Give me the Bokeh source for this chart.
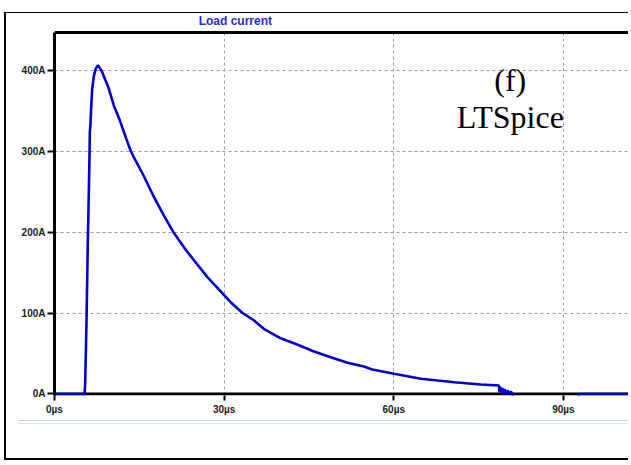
from bokeh.plotting import figure
from bokeh.models import Range1d, FixedTicker, Span, Label, BoxAnnotation
from bokeh.embed import file_html
from bokeh.resources import INLINE

# ---- data ----
t_us = [0, 5.31, 5.42, 5.66, 5.88, 6.07, 6.19, 6.25, 6.37, 6.50, 6.67, 6.96, 7.30, 7.66,
        8.00, 8.44, 9.61, 10.5, 11.6, 12.7, 13.45, 13.9, 15.75, 17.6, 19.35, 21.1, 23.2,
        27.0, 31.15, 33.2, 35.3, 37.0, 40.0, 43.0, 45.9, 48.85, 51.8, 54.7, 56.2, 60.05,
        64.8, 70.7, 75.4, 78.6, 78.7, 78.85, 79.0, 79.2, 79.4, 79.6, 79.85, 80.1, 80.4,
        80.7, 81.0, 81.1, 92.6, 92.7, 101.8]
i_amp = [0, 0, 12, 89, 184, 250, 295, 324, 336, 357, 378, 394, 403, 407,
         404, 398.5, 378, 357, 338, 316, 301.5, 295, 270.6, 243.7, 221, 199.6, 178.6,
         145, 113.7, 100.6, 91, 80.7, 69, 61, 52.6, 45.6, 38.6, 34, 30.3, 25,
         18.8, 14.6, 11.8, 10.5, 2, 9, 1, 7.5, 0, 6, 0, 4.5, 0,
         3, 0, -6, -6, 0, 0]

x_ticks = [0, 30, 60, 90]
x_tick_labels = ["0\u00b5s", "30\u00b5s", "60\u00b5s", "90\u00b5s"]
y_ticks = [0, 100, 200, 300, 400]
y_tick_labels = ["0A", "100A", "200A", "300A", "400A"]
y_plot_top = 447.7          # upper edge of the plotting window

trace_name = "Load current"
panel_tag = "(f)"
tool_name = "LTSpice"

TRACE = "#0000c8"
FONT = "Liberation Sans"

p = figure(width=624, height=448, output_backend="svg", toolbar_location=None, title=None,
           x_range=Range1d(0, 101.86), y_range=Range1d(-1.86, 471.2),
           min_border_left=48, min_border_right=0, min_border_top=0, min_border_bottom=66,
           background_fill_color="white", border_fill_color=None)
p.outline_line_color = None
p.styles = {"margin-left": "4px", "margin-top": "12px",
            "border-left": "2px solid black", "border-top": "1px solid black",
            "border-bottom": "2px solid black",
            "background-color": "white",
            "background-image": "linear-gradient(#c5d2df, #c5d2df), linear-gradient(#dbe4ed, #dbe4ed)",
            "background-size": "612px 1px, 612px 1px",
            "background-position": "12px 407px, 12px 410px",
            "background-repeat": "no-repeat"}

# grid
for g, tk in ((p.xgrid, x_ticks), (p.ygrid, y_ticks)):
    g.ticker = FixedTicker(ticks=tk)
    g.grid_line_color = "#9a9a9a"
    g.grid_line_dash = "3 3"
    g.grid_line_width = 1

# y axis
ya = p.yaxis[0]
ya.ticker = FixedTicker(ticks=y_ticks)
ya.major_label_overrides = dict(zip(y_ticks, y_tick_labels))
ya.bounds = (-1.86, y_plot_top)
ya.axis_line_width = 3
ya.axis_line_color = "black"
ya.major_tick_line_width = 2
ya.major_tick_in = 0
ya.major_tick_out = 7
ya.minor_tick_line_color = None
ya.major_label_standoff = 2
ya.major_label_text_font = FONT
ya.major_label_text_font_style = "bold"
ya.major_label_text_font_size = "10px"
ya.major_label_text_color = "#1a1a1a"

# x axis
xa = p.xaxis[0]
xa.ticker = FixedTicker(ticks=x_ticks)
xa.major_label_overrides = dict(zip(x_ticks, x_tick_labels))
xa.bounds = (0, 95)
xa.axis_line_color = None
xa.major_tick_line_width = 2
xa.major_tick_in = 0
xa.major_tick_out = 5
xa.minor_tick_line_color = None
xa.major_label_standoff = 3
xa.major_label_text_font = FONT
xa.major_label_text_font_style = "bold"
xa.major_label_text_font_size = "10px"
xa.major_label_text_color = "#1a1a1a"

# zero line (drawn under the trace)
p.add_layout(Span(location=0, dimension="width", line_color="black", line_width=3, level="underlay"))

p.line(t_us, i_amp, line_color=TRACE, line_width=2.6)

# blank band above the plotting window, its top edge, and the trace name
p.add_layout(BoxAnnotation(bottom=y_plot_top, fill_color="white", fill_alpha=1.0,
                           line_alpha=0))
p.add_layout(Span(location=y_plot_top, dimension="width", line_color="black", line_width=3))

p.add_layout(Label(x=25.5, y=462.5, text=trace_name, text_font=FONT,
                   text_font_style="bold", text_font_size="12px", text_color="#2a2ad0",
                   text_align="left", text_baseline="middle"))
p.add_layout(Label(x=80.6, y=389.0, text=panel_tag, text_font="Liberation Serif",
                   text_font_size="32px", text_color="black",
                   text_align="center", text_baseline="middle"))
p.add_layout(Label(x=80.6, y=342.8, text=tool_name, text_font="Liberation Serif",
                   text_font_size="32px", text_color="black",
                   text_align="center", text_baseline="middle"))

open("out.html", "w").write(file_html(p, INLINE))
